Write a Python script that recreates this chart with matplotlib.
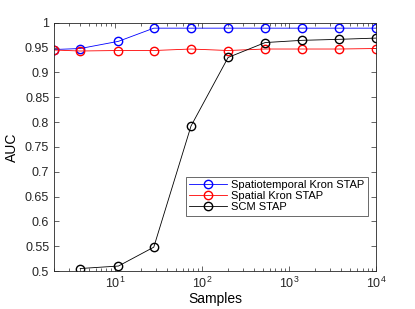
import matplotlib
matplotlib.use("Agg")
import matplotlib.pyplot as plt
import numpy as np
from matplotlib.ticker import LogLocator, NullFormatter

plt.rcParams['font.family'] = ['Liberation Sans', 'DejaVu Sans']

samples = [2, 4, 11, 28, 75, 200, 532, 1414, 3761, 10000]
auc_spatiotemporal = [0.946, 0.948, 0.9625, 0.989, 0.989, 0.989, 0.989, 0.989, 0.989, 0.989]
auc_spatial = [0.945, 0.943, 0.944, 0.944, 0.947, 0.944, 0.947, 0.947, 0.947, 0.948]
samples_scm = [4, 11, 28, 75, 200, 532, 1414, 3761, 10000]
auc_scm = [0.505, 0.51, 0.548, 0.792, 0.930, 0.960, 0.9645, 0.9665, 0.969]
ytick_labels = ['0.5', '0.55', '0.6', '0.65', '0.7', '0.75', '0.8',
                '0.85', '0.9', '0.95', '1']


def main():
    fig = plt.figure(figsize=(4.15, 3.09), dpi=100)
    ax = fig.add_axes([54 / 415, 1 - 271 / 309, (376 - 54) / 415, (271 - 22.7) / 309])

    ax.plot(samples, auc_spatiotemporal, '-o', color='blue', lw=0.6, mfc='none',
            ms=6, mew=1.0, label='Spatiotemporal Kron STAP')
    ax.plot(samples, auc_spatial, '-o', color='red', lw=0.6, mfc='none',
            ms=6, mew=1.0, label='Spatial Kron STAP')
    ax.plot(samples_scm, auc_scm, '-o', color='black', lw=0.6, mfc='none',
            ms=6, mew=1.0, label='SCM STAP')

    ax.set_xscale('log')
    ax.set_xlim(2, 1e4)
    ax.set_ylim(0.5, 1)
    ax.set_yticks(np.arange(0.5, 1.001, 0.05))
    ax.set_yticklabels(ytick_labels)
    ax.xaxis.set_major_locator(LogLocator(base=10, numticks=10))
    ax.xaxis.set_minor_locator(LogLocator(base=10, subs=np.arange(2, 10), numticks=50))
    ax.xaxis.set_minor_formatter(NullFormatter())

    ax.tick_params(which='both', direction='in', top=True, right=True,
                   labelsize=9, colors='#262626', width=0.5)
    ax.tick_params(which='major', length=3.5)
    ax.tick_params(which='minor', length=2)
    for s in ax.spines.values():
        s.set_linewidth(0.6)
        s.set_color('#262626')

    ax.set_xlabel('Samples', fontsize=10, labelpad=1)
    ax.set_ylabel('AUC', fontsize=10, labelpad=4)

    leg = ax.legend(loc='lower right', bbox_to_anchor=(0.975, 0.223), fontsize=8,
                    frameon=True, fancybox=False, edgecolor='#262626',
                    handlelength=3.4, borderpad=0.3, labelspacing=0.1,
                    handletextpad=0.4, borderaxespad=0)
    leg.get_frame().set_linewidth(0.6)

    plt.savefig('out.png', dpi=100)


if __name__ == "__main__":
    main()
